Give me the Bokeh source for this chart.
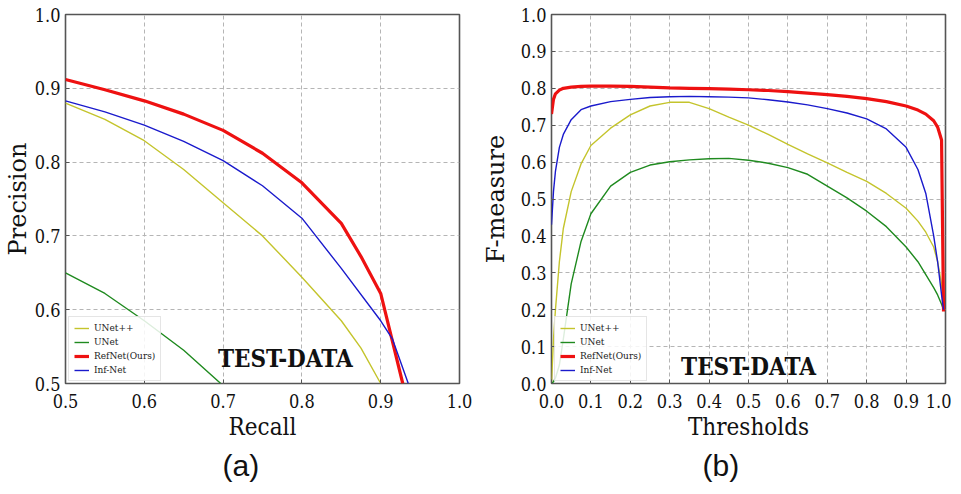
from bokeh.plotting import figure
from bokeh.models import Range1d, FixedTicker, Label, Title, NumeralTickFormatter
from bokeh.layouts import row
from bokeh.embed import file_html
from bokeh.resources import INLINE

# ---------------- data (a): precision-recall ----------------
series_names = ["UNet++", "UNet", "RefNet(Ours)", "Inf-Net"]

recall_unetpp = [0.5, 0.55, 0.6, 0.65, 0.7, 0.75, 0.8, 0.85, 0.875, 0.9]
prec_unetpp = [0.88, 0.858, 0.829, 0.790, 0.745, 0.700, 0.644, 0.585, 0.548, 0.5]

recall_unet = [0.5, 0.55, 0.6, 0.65, 0.697]
prec_unet = [0.65, 0.622, 0.585, 0.545, 0.5]

recall_refnet = [0.5, 0.55, 0.6, 0.65, 0.7, 0.75, 0.8, 0.85, 0.875, 0.9, 0.928]
prec_refnet = [0.912, 0.898, 0.883, 0.865, 0.843, 0.812, 0.772, 0.717, 0.672, 0.622, 0.5]

recall_infnet = [0.5, 0.55, 0.6, 0.65, 0.7, 0.75, 0.8, 0.85, 0.9, 0.915, 0.935]
prec_infnet = [0.883, 0.868, 0.850, 0.828, 0.802, 0.768, 0.724, 0.656, 0.585, 0.560, 0.5]

# ---------------- data (b): F-measure vs threshold ----------------
thresholds = [0.0, 0.005, 0.01, 0.02, 0.03, 0.05, 0.075, 0.1, 0.15, 0.2, 0.25, 0.3,
              0.35, 0.4, 0.45, 0.5, 0.55, 0.6, 0.65, 0.7, 0.75, 0.8, 0.85, 0.9,
              0.93, 0.95, 0.97, 0.98, 0.99, 0.995]
f_unetpp = [0.0, 0.12, 0.20, 0.33, 0.42, 0.52, 0.595, 0.645, 0.692, 0.728, 0.752, 0.762,
            0.762, 0.745, 0.722, 0.700, 0.675, 0.648, 0.622, 0.598, 0.572, 0.548, 0.515, 0.475,
            0.44, 0.41, 0.37, 0.33, 0.27, 0.20]
f_unet = [0.0, 0.005, 0.015, 0.05, 0.12, 0.27, 0.385, 0.46, 0.535, 0.572, 0.592, 0.601,
          0.606, 0.609, 0.610, 0.605, 0.597, 0.585, 0.567, 0.535, 0.503, 0.467, 0.425, 0.37,
          0.33, 0.295, 0.26, 0.24, 0.215, 0.20]
f_refnet = [0.73, 0.77, 0.785, 0.795, 0.800, 0.803, 0.805, 0.806, 0.806, 0.805, 0.803, 0.801,
            0.800, 0.799, 0.798, 0.796, 0.794, 0.791, 0.787, 0.783, 0.778, 0.772, 0.764, 0.752,
            0.741, 0.730, 0.712, 0.695, 0.66, 0.195]
f_infnet = [0.43, 0.52, 0.575, 0.64, 0.675, 0.715, 0.742, 0.752, 0.764, 0.770, 0.775, 0.777,
            0.778, 0.777, 0.776, 0.774, 0.769, 0.763, 0.755, 0.745, 0.733, 0.717, 0.690, 0.640,
            0.580, 0.515, 0.40, 0.33, 0.24, 0.20]

ticks_a = [0.5, 0.6, 0.7, 0.8, 0.9, 1.0]
ticks_b = [0.0, 0.1, 0.2, 0.3, 0.4, 0.5, 0.6, 0.7, 0.8, 0.9, 1.0]

colors = ["#c4c42c", "#1f8a1f", "#ee1111", "#1a1acc"]
widths = [1.4, 1.4, 3.2, 1.4]

SERIF_C = "DejaVu Serif Condensed"
SERIF = "DejaVu Serif"


def style(p, ticks, xlabel, ylabel, ylab_standoff):
    p.xaxis.ticker = FixedTicker(ticks=ticks)
    p.yaxis.ticker = FixedTicker(ticks=ticks)
    p.xaxis.formatter = NumeralTickFormatter(format="0.0")
    p.yaxis.formatter = NumeralTickFormatter(format="0.0")
    for ax in (p.xaxis[0], p.yaxis[0]):
        ax.axis_line_color = None
        ax.major_tick_in = 4
        ax.major_tick_out = 0
        ax.major_tick_line_color = "#555555"
        ax.minor_tick_line_color = None
        ax.major_label_text_font = SERIF_C
        ax.major_label_text_font_size = "18px"
        ax.major_label_text_color = "#111111"
        ax.axis_label_text_font_style = "normal"
        ax.axis_label_text_color = "#111111"
        ax.axis_label_text_font_size = "24px"
    p.xaxis.axis_label = xlabel
    p.xaxis.axis_label_text_font = SERIF_C
    p.xaxis.major_label_standoff = 10
    p.xaxis.axis_label_standoff = 2
    p.yaxis.axis_label = ylabel
    p.yaxis.axis_label_text_font = SERIF
    p.yaxis.major_label_standoff = 5
    p.yaxis.axis_label_standoff = ylab_standoff
    for g in (p.xgrid[0], p.ygrid[0]):
        g.grid_line_color = "#b5b5b5"
        g.grid_line_dash = "4 3"
        g.grid_line_width = 1
    p.outline_line_color = "#555555"
    p.outline_line_width = 1.6
    p.background_fill_color = "white"
    p.border_fill_color = "white"


def legend_style(p):
    lg = p.legend[0]
    lg.location = (3, 2)
    lg.margin = 0
    lg.padding = 5
    lg.spacing = 3
    lg.glyph_width = 15
    lg.glyph_height = 10
    lg.label_height = 10
    lg.label_standoff = 5
    lg.label_text_font = SERIF_C
    lg.label_text_font_size = "10px"
    lg.label_text_color = "#222222"
    lg.border_line_color = "#cccccc"
    lg.border_line_width = 1
    lg.background_fill_alpha = 0.85


def make_fig(xr, yr, left, right):
    return figure(frame_width=394, frame_height=369, output_backend="svg", toolbar_location=None,
                  x_range=xr, y_range=yr,
                  min_border_left=left, min_border_right=right, min_border_top=14,
                  min_border_bottom=60)


# ---------------- figure (a) ----------------
pa = make_fig(Range1d(0.5, 1.0), Range1d(0.5, 1.0), 59, 19)
xs_a = [recall_unetpp, recall_unet, recall_refnet, recall_infnet]
ys_a = [prec_unetpp, prec_unet, prec_refnet, prec_infnet]
for x, y, c, w, n in zip(xs_a, ys_a, colors, widths, series_names):
    pa.line(x, y, line_color=c, line_width=w, legend_label=n)
style(pa, ticks_a, "Recall", "Precision", 0)
legend_style(pa)
pa.add_layout(Label(x=0.779, y=0.534, text="TEST-DATA", text_font=SERIF_C, text_font_style="bold",
                    text_font_size="24px", text_align="center", text_baseline="middle",
                    text_color="#111111"))
pa.add_layout(Title(text="(a)", align="left", offset=157, text_font="Liberation Sans",
                    text_font_size="30px", text_font_style="normal", text_color="#111111",
                    standoff=6), "below")

# ---------------- figure (b) ----------------
pb = make_fig(Range1d(0.0, 1.0), Range1d(0.0, 1.0), 73, 6)
ys_b = [f_unetpp, f_unet, f_refnet, f_infnet]
for y, c, w, n in zip(ys_b, colors, widths, series_names):
    pb.line(thresholds, y, line_color=c, line_width=w, legend_label=n)
style(pb, ticks_b, "Thresholds", "F-measure", 8)
legend_style(pb)
pb.add_layout(Label(x=0.5, y=0.046, text="TEST-DATA", text_font=SERIF_C, text_font_style="bold",
                    text_font_size="24px", text_align="center", text_baseline="middle",
                    text_color="#111111"))
pb.add_layout(Title(text="(b)", align="left", offset=151, text_font="Liberation Sans",
                    text_font_size="30px", text_font_style="normal", text_color="#111111",
                    standoff=6), "below")

layout = row(pa, pb)
open("out.html", "w").write(file_html(layout, INLINE))
